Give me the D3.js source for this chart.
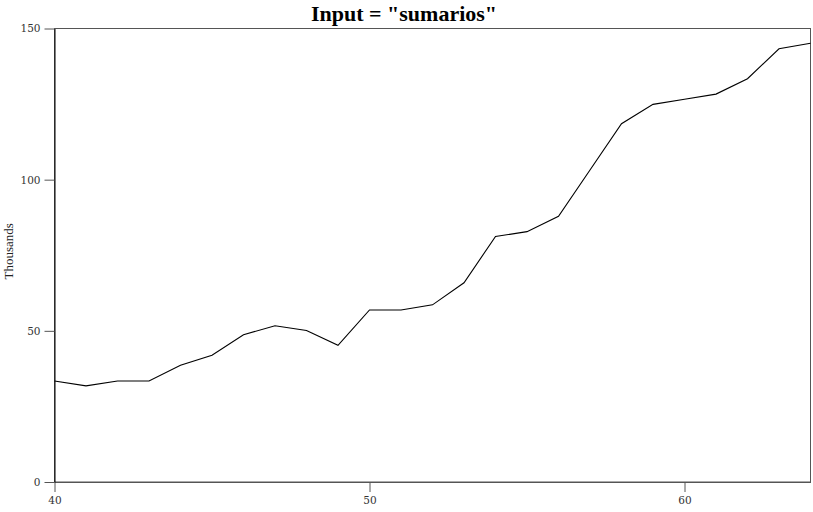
<!DOCTYPE html>
<html><head><meta charset="utf-8">
<script src="https://cdn.jsdelivr.net/npm/d3@7"></script>
<style>body{margin:0;background:#fff}svg{display:block}</style>
</head><body>
<script>
const years = [40,41,42,43,44,45,46,47,48,49,50,51,52,53,54,55,56,57,58,59,60,61,62,63,64];
const values = [33.4,31.8,33.4,33.4,38.6,41.9,48.7,51.7,50.1,45.2,56.9,56.9,58.6,65.9,81.2,82.8,87.9,103.2,118.5,124.9,126.6,128.3,133.4,143.3,145.1];
const xTicks = [40,50,60];
const yTicks = [0,50,100,150];
const title = 'Input = "sumarios"';
const yLabel = 'Thousands';

const W = 813, H = 512;
const m = {left:54.5, right:2.5, top:28.5, bottom:30};
const svg = d3.select("body").append("svg").attr("width",W).attr("height",H);
const x = d3.scaleLinear().domain([40,64]).range([m.left, W-m.right]);
const y = d3.scaleLinear().domain([0,150]).range([H-m.bottom, m.top]);

const font = "'Liberation Serif', 'DejaVu Serif', serif";
const tickFont = "'DejaVu Serif', serif";

// frame
svg.append("rect").attr("x",m.left).attr("y",m.top)
  .attr("width",W-m.right-m.left).attr("height",H-m.bottom-m.top)
  .attr("fill","none").attr("stroke","#555").attr("stroke-width",1);

const gx = svg.append("g").attr("transform",`translate(0,${H-m.bottom})`)
  .call(d3.axisBottom(x).tickValues(xTicks).tickSizeInner(10).tickSizeOuter(0).tickPadding(5));
const gy = svg.append("g").attr("transform",`translate(${m.left},0)`)
  .call(d3.axisLeft(y).tickValues(yTicks).tickSizeInner(10).tickSizeOuter(0).tickPadding(4));
[gx,gy].forEach(g=>{
  g.select(".domain").attr("stroke","#555");
  g.selectAll(".tick line").attr("stroke","#555");
  g.selectAll(".tick text").attr("font-family",tickFont).attr("font-size",10.5).attr("fill","#333");
});
gy.select(".domain").attr("stroke","#000");

svg.append("path").datum(years.map((d,i)=>[d,values[i]]))
  .attr("fill","none").attr("stroke","#000").attr("stroke-width",1.1)
  .attr("d", d3.line().x(d=>x(d[0])).y(d=>y(d[1])));

svg.append("text").attr("x",404).attr("y",21).attr("text-anchor","middle")
  .attr("font-family",font).attr("font-weight","bold").attr("font-size",22).text(title);

svg.append("text").attr("transform",`translate(13,${(m.top+H-m.bottom)/2 - 4}) rotate(-90)`)
  .attr("text-anchor","middle").attr("font-family",font).attr("font-size",13).attr("fill","#222").text(yLabel);
</script>
</body></html>
